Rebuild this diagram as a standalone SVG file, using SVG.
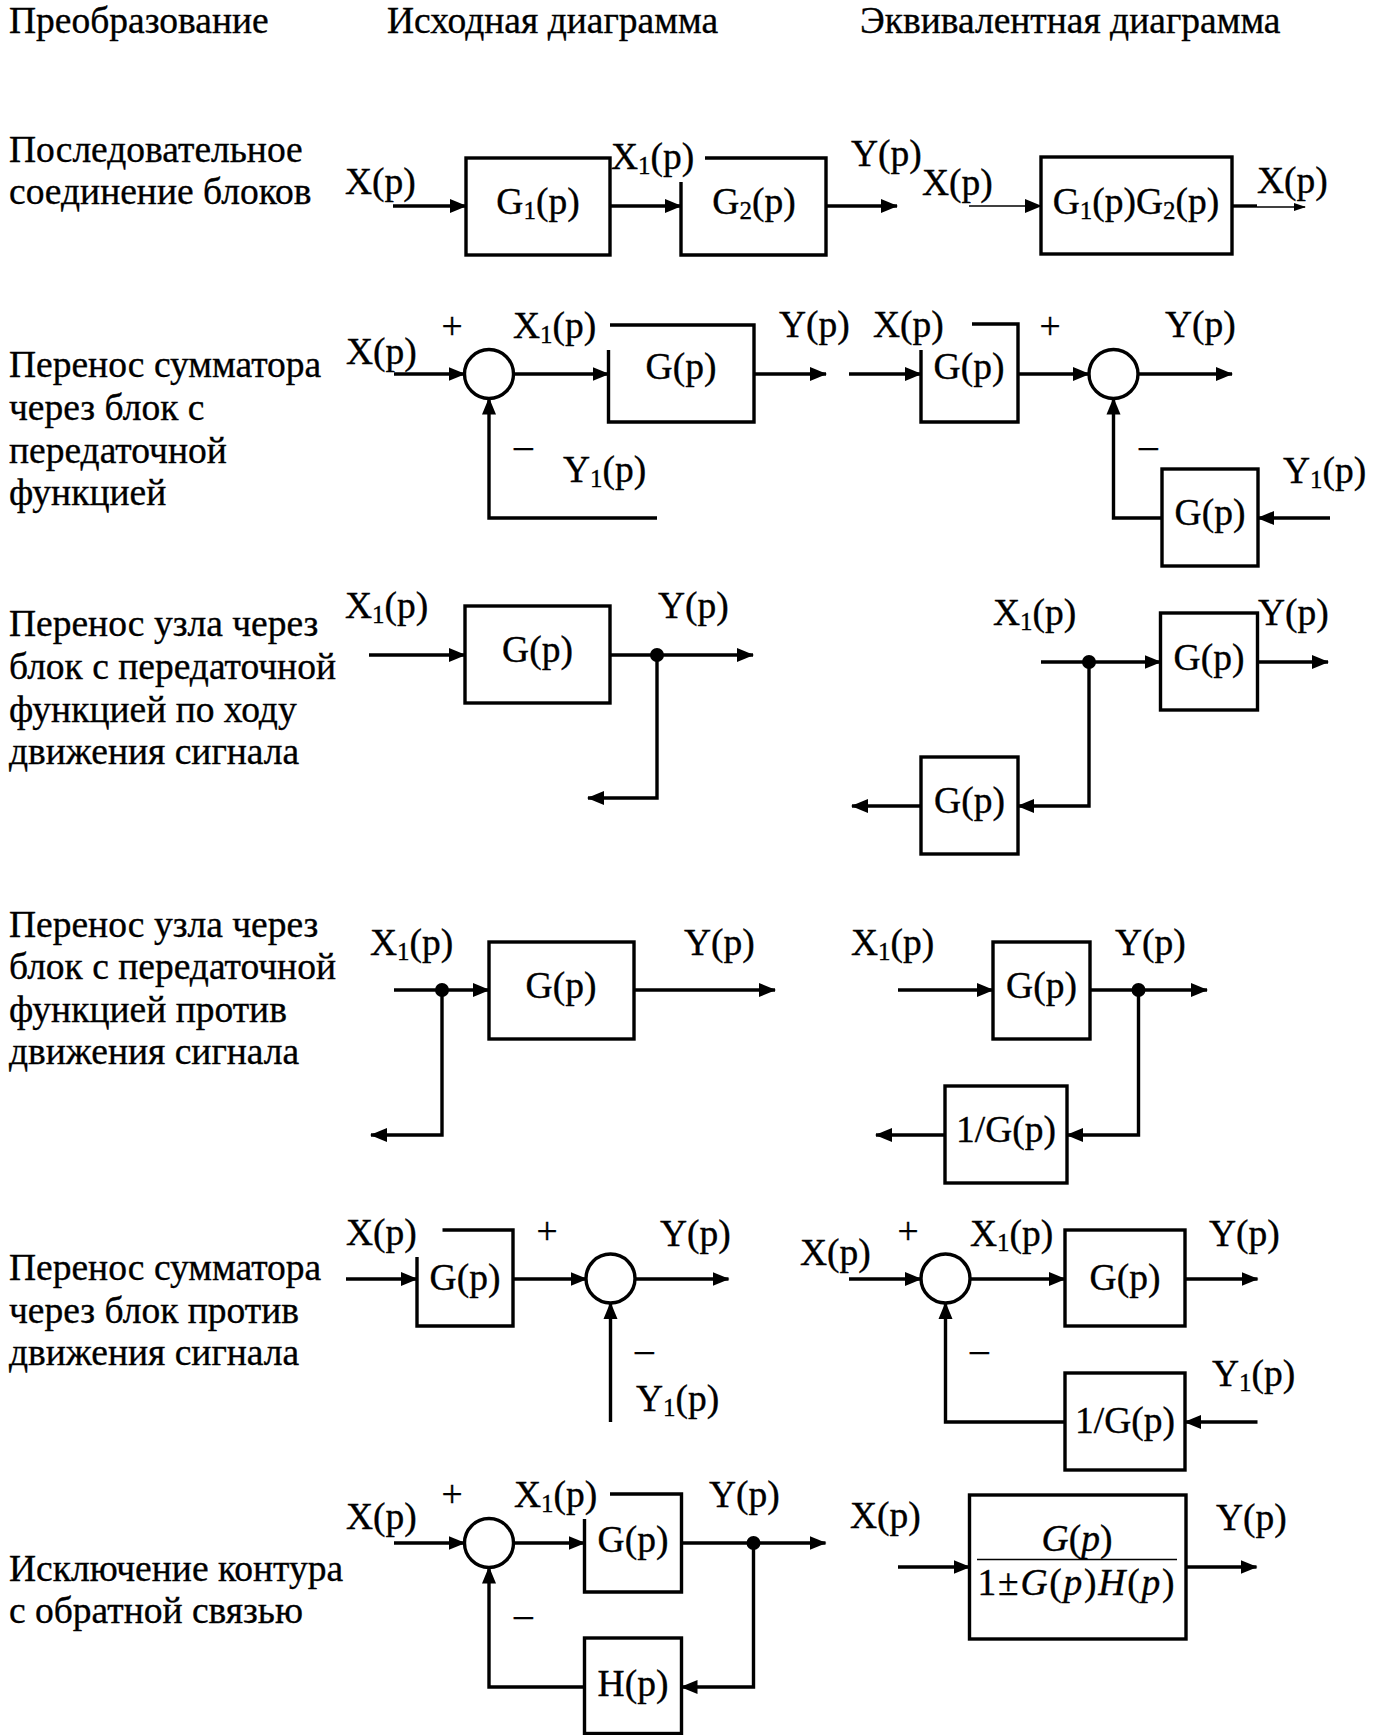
<svg xmlns="http://www.w3.org/2000/svg" width="1381" height="1735" viewBox="0 0 1381 1735">
<style>
.t{font-family:"Liberation Serif","Times New Roman",serif;font-size:37.5px;fill:#000;stroke:#000;stroke-width:0.35}
.m{text-anchor:middle}
.s{font-size:25px}
.i{font-style:italic}
.b{fill:none;stroke:#000;stroke-width:3.4}
.c{fill:none;stroke:#000;stroke-width:3.4}
.th{stroke-width:1.6}
.sum{fill:#fff;stroke:#000;stroke-width:3.4}
.dot{fill:#000}
</style>
<defs>
<marker id="a" markerUnits="userSpaceOnUse" markerWidth="17" markerHeight="15" refX="16" refY="7.5" orient="auto"><path d="M0,0.5 L17,7.5 L0,14.5 z" fill="#000"/></marker>
<marker id="as" markerUnits="userSpaceOnUse" markerWidth="12" markerHeight="10" refX="11" refY="5" orient="auto"><path d="M0,1 L12,5 L0,9 z" fill="#000"/></marker>
</defs>
<rect width="1381" height="1735" fill="#fff"/>

<g id="headers">
<text class="t" x="9" y="33">Преобразование</text>
<text class="t" x="387" y="33">Исходная диаграмма</text>
<text class="t" x="860" y="33">Эквивалентная диаграмма</text>
</g>

<g id="row-labels">
<text class="t" x="9" y="162">Последовательное</text>
<text class="t" x="9" y="204">соединение блоков</text>
<text class="t" x="9" y="377">Перенос сумматора</text>
<text class="t" x="9" y="420">через блок с</text>
<text class="t" x="9" y="463">передаточной</text>
<text class="t" x="9" y="505">функцией</text>
<text class="t" x="9" y="636">Перенос узла через</text>
<text class="t" x="9" y="679">блок с передаточной</text>
<text class="t" x="9" y="722">функцией по ходу</text>
<text class="t" x="9" y="764">движения сигнала</text>
<text class="t" x="9" y="937">Перенос узла через</text>
<text class="t" x="9" y="979">блок с передаточной</text>
<text class="t" x="9" y="1022">функцией против</text>
<text class="t" x="9" y="1064">движения сигнала</text>
<text class="t" x="9" y="1280">Перенос сумматора</text>
<text class="t" x="9" y="1323">через блок против</text>
<text class="t" x="9" y="1365">движения сигнала</text>
<text class="t" x="9" y="1581">Исключение контура</text>
<text class="t" x="9" y="1623">с обратной связью</text>
</g>

<g id="connectors">
<!-- row 1 -->
<path class="c" d="M393,206 H466" marker-end="url(#a)"/>
<path class="c" d="M610,206 H681" marker-end="url(#a)"/>
<path class="c" d="M826,206 H897" marker-end="url(#a)"/>
<path class="c th" d="M969,206 H1041" marker-end="url(#a)"/>
<path class="c" d="M1232,206 H1257"/>
<path class="c th" d="M1257,207 H1305" marker-end="url(#as)"/>
<!-- row 2 left -->
<path class="c" d="M394,374 H464.5" marker-end="url(#a)"/>
<path class="c" d="M513.5,374 H608.5" marker-end="url(#a)"/>
<path class="c" d="M754,374 H826" marker-end="url(#a)"/>
<path class="c" d="M657,518 H489 V398.5" marker-end="url(#a)"/>
<!-- row 2 right -->
<path class="c" d="M849,374 H921" marker-end="url(#a)"/>
<path class="c" d="M1018,374 H1089" marker-end="url(#a)"/>
<path class="c" d="M1138,374 H1232" marker-end="url(#a)"/>
<path class="c" d="M1330,518 H1258" marker-end="url(#a)"/>
<path class="c" d="M1162,518 H1113.5 V398.5" marker-end="url(#a)"/>
<!-- row 3 left -->
<path class="c" d="M369,655 H465" marker-end="url(#a)"/>
<path class="c" d="M610,655 H753" marker-end="url(#a)"/>
<path class="c" d="M657,655 V798 H588" marker-end="url(#a)"/>
<!-- row 3 right -->
<path class="c" d="M1041,662 H1160.5" marker-end="url(#a)"/>
<path class="c" d="M1257.5,662 H1328" marker-end="url(#a)"/>
<path class="c" d="M1089,662 V806 H1018" marker-end="url(#a)"/>
<path class="c" d="M921,806 H852" marker-end="url(#a)"/>
<!-- row 4 left -->
<path class="c" d="M394,990 H489" marker-end="url(#a)"/>
<path class="c" d="M634,990 H775" marker-end="url(#a)"/>
<path class="c" d="M442,990 V1135 H371" marker-end="url(#a)"/>
<!-- row 4 right -->
<path class="c" d="M898,990 H993" marker-end="url(#a)"/>
<path class="c" d="M1090,990 H1207" marker-end="url(#a)"/>
<path class="c" d="M1138.5,990 V1135 H1067" marker-end="url(#a)"/>
<path class="c" d="M945,1135 H876" marker-end="url(#a)"/>
<!-- row 5 left -->
<path class="c" d="M346,1279 H417" marker-end="url(#a)"/>
<path class="c" d="M513,1279 H586.5" marker-end="url(#a)"/>
<path class="c" d="M635,1279 H728.5" marker-end="url(#a)"/>
<path class="c" d="M610.5,1422 V1303" marker-end="url(#a)"/>
<!-- row 5 right -->
<path class="c" d="M849,1279 H921" marker-end="url(#a)"/>
<path class="c" d="M970,1279 H1065" marker-end="url(#a)"/>
<path class="c" d="M1185,1279 H1257.5" marker-end="url(#a)"/>
<path class="c" d="M1257.5,1422 H1185" marker-end="url(#a)"/>
<path class="c" d="M1065,1422 H945.5 V1303" marker-end="url(#a)"/>
<!-- row 6 left -->
<path class="c" d="M394,1543 H464.5" marker-end="url(#a)"/>
<path class="c" d="M513.5,1543 H584.5" marker-end="url(#a)"/>
<path class="c" d="M681.5,1543 H825.5" marker-end="url(#a)"/>
<path class="c" d="M753.5,1543 V1687 H681.5" marker-end="url(#a)"/>
<path class="c" d="M584.5,1687 H489 V1567.5" marker-end="url(#a)"/>
<!-- row 6 right -->
<path class="c" d="M898,1567 H969.5" marker-end="url(#a)"/>
<path class="c" d="M1186,1567 H1256.5" marker-end="url(#a)"/>
</g>

<g id="signal-labels">
<text class="t" x="345" y="194">X(p)</text>
<text class="t" x="611" y="169">X<tspan class="s" dy="5">1</tspan><tspan dy="-5">(p)</tspan></text>
<text class="t" x="851" y="166">Y(p)</text>
<text class="t" x="922" y="195">X(p)</text>
<text class="t" x="1257" y="193">X(p)</text>

<text class="t" x="346" y="364">X(p)</text>
<text class="t m" x="452" y="339">+</text>
<text class="t" x="513" y="338">X<tspan class="s" dy="5">1</tspan><tspan dy="-5">(p)</tspan></text>
<text class="t" x="779" y="337">Y(p)</text>
<text class="t" x="514" y="458">–</text>
<text class="t" x="563" y="482">Y<tspan class="s" dy="5">1</tspan><tspan dy="-5">(p)</tspan></text>
<text class="t" x="873" y="337">X(p)</text>
<text class="t m" x="1050" y="339">+</text>
<text class="t" x="1165" y="337">Y(p)</text>
<text class="t" x="1139" y="458">–</text>
<text class="t" x="1283" y="483">Y<tspan class="s" dy="5">1</tspan><tspan dy="-5">(p)</tspan></text>

<text class="t" x="345" y="618">X<tspan class="s" dy="5">1</tspan><tspan dy="-5">(p)</tspan></text>
<text class="t" x="658" y="618">Y(p)</text>
<text class="t" x="993" y="625">X<tspan class="s" dy="5">1</tspan><tspan dy="-5">(p)</tspan></text>
<text class="t" x="1258" y="625">Y(p)</text>

<text class="t" x="370" y="955">X<tspan class="s" dy="5">1</tspan><tspan dy="-5">(p)</tspan></text>
<text class="t" x="684" y="955">Y(p)</text>
<text class="t" x="851" y="955">X<tspan class="s" dy="5">1</tspan><tspan dy="-5">(p)</tspan></text>
<text class="t" x="1115" y="955">Y(p)</text>

<text class="t" x="346" y="1245">X(p)</text>
<text class="t m" x="547" y="1244">+</text>
<text class="t" x="660" y="1246">Y(p)</text>
<text class="t" x="635" y="1362">–</text>
<text class="t" x="636" y="1411">Y<tspan class="s" dy="5">1</tspan><tspan dy="-5">(p)</tspan></text>
<text class="t m" x="908" y="1244">+</text>
<text class="t" x="800" y="1265">X(p)</text>
<text class="t" x="970" y="1246">X<tspan class="s" dy="5">1</tspan><tspan dy="-5">(p)</tspan></text>
<text class="t" x="1209" y="1246">Y(p)</text>
<text class="t" x="970" y="1362">–</text>
<text class="t" x="1212" y="1386">Y<tspan class="s" dy="5">1</tspan><tspan dy="-5">(p)</tspan></text>

<text class="t" x="346" y="1529">X(p)</text>
<text class="t m" x="452" y="1507">+</text>
<text class="t" x="514" y="1507">X<tspan class="s" dy="5">1</tspan><tspan dy="-5">(p)</tspan></text>
<text class="t" x="709" y="1507">Y(p)</text>
<text class="t" x="514" y="1627">–</text>
<text class="t" x="850" y="1528">X(p)</text>
<text class="t" x="1216" y="1530">Y(p)</text>
</g>

<!-- row 1 nodes -->
<g id="r1-G1"><rect class="b" x="466" y="158" width="144" height="97"/><text class="t m" x="538" y="214">G<tspan class="s" dy="5">1</tspan><tspan dy="-5">(p)</tspan></text></g>
<g id="r1-G2"><path class="b" d="M705,158 H826 V255 H681 V182"/><text class="t m" x="754" y="214">G<tspan class="s" dy="5">2</tspan><tspan dy="-5">(p)</tspan></text></g>
<g id="r1-G1G2"><rect class="b" x="1041" y="157" width="191" height="97"/><text class="t m" x="1136" y="214">G<tspan class="s" dy="5">1</tspan><tspan dy="-5">(p)G</tspan><tspan class="s" dy="5">2</tspan><tspan dy="-5">(p)</tspan></text></g>

<!-- row 2 nodes -->
<g id="r2-sum1"><circle class="sum" cx="489" cy="374" r="24.5"/></g>
<g id="r2-G1"><path class="b" d="M610,325 H754 V422 H608.5 V350"/><text class="t m" x="681" y="379">G(p)</text></g>
<g id="r2-G2"><path class="b" d="M972,324 H1018 V422 H921 V350"/><text class="t m" x="969" y="379">G(p)</text></g>
<g id="r2-sum2"><circle class="sum" cx="1113.5" cy="374" r="24.5"/></g>
<g id="r2-G3"><rect class="b" x="1162" y="469" width="96" height="97"/><text class="t m" x="1210" y="525">G(p)</text></g>

<!-- row 3 nodes -->
<g id="r3-G1"><rect class="b" x="465" y="606" width="145" height="97"/><text class="t m" x="537.5" y="662">G(p)</text></g>
<g id="r3-n1"><circle class="dot" cx="657" cy="655" r="7"/></g>
<g id="r3-n2"><circle class="dot" cx="1089" cy="662" r="7"/></g>
<g id="r3-G2"><rect class="b" x="1160.5" y="613" width="97" height="97"/><text class="t m" x="1209" y="670">G(p)</text></g>
<g id="r3-G3"><rect class="b" x="921" y="757" width="97" height="97"/><text class="t m" x="969.5" y="813">G(p)</text></g>

<!-- row 4 nodes -->
<g id="r4-n1"><circle class="dot" cx="442" cy="990" r="7"/></g>
<g id="r4-G1"><rect class="b" x="489" y="942" width="145" height="97"/><text class="t m" x="561" y="998">G(p)</text></g>
<g id="r4-G2"><rect class="b" x="993" y="942" width="97" height="97"/><text class="t m" x="1041.5" y="998">G(p)</text></g>
<g id="r4-n2"><circle class="dot" cx="1138.5" cy="990" r="7"/></g>
<g id="r4-G3"><rect class="b" x="945" y="1086" width="122" height="97"/><text class="t m" x="1006" y="1142">1/G(p)</text></g>

<!-- row 5 nodes -->
<g id="r5-G1"><path class="b" d="M442.5,1230 H513 V1326 H417 V1257"/><text class="t m" x="465" y="1290">G(p)</text></g>
<g id="r5-sum1"><circle class="sum" cx="610.5" cy="1278.5" r="24.5"/></g>
<g id="r5-sum2"><circle class="sum" cx="945.5" cy="1278.5" r="24.5"/></g>
<g id="r5-G2"><rect class="b" x="1065" y="1230" width="120" height="96"/><text class="t m" x="1125" y="1290">G(p)</text></g>
<g id="r5-G3"><rect class="b" x="1065" y="1373" width="120" height="97"/><text class="t m" x="1125" y="1433">1/G(p)</text></g>

<!-- row 6 nodes -->
<g id="r6-sum"><circle class="sum" cx="489" cy="1543" r="24.5"/></g>
<g id="r6-G"><path class="b" d="M610,1494 H681.5 V1592 H584.5 V1519"/><text class="t m" x="633" y="1552">G(p)</text></g>
<g id="r6-n"><circle class="dot" cx="753.5" cy="1543" r="7"/></g>
<g id="r6-H"><rect class="b" x="584.5" y="1638" width="97" height="95.5"/><text class="t m" x="633" y="1696">H(p)</text></g>
<g id="r6-W"><rect class="b" x="969.5" y="1495" width="216.5" height="144"/>
<text class="t m" x="1077" y="1551"><tspan class="i">G</tspan>(<tspan class="i">p</tspan>)</text>
<line x1="977" y1="1559.5" x2="1177" y2="1559.5" stroke="#000" stroke-width="1.6"/>
<text class="t m" x="1076" y="1595" textLength="197" lengthAdjust="spacing">1±<tspan class="i">G</tspan>(<tspan class="i">p</tspan>)<tspan class="i">H</tspan>(<tspan class="i">p</tspan>)</text>
</g>
</svg>
